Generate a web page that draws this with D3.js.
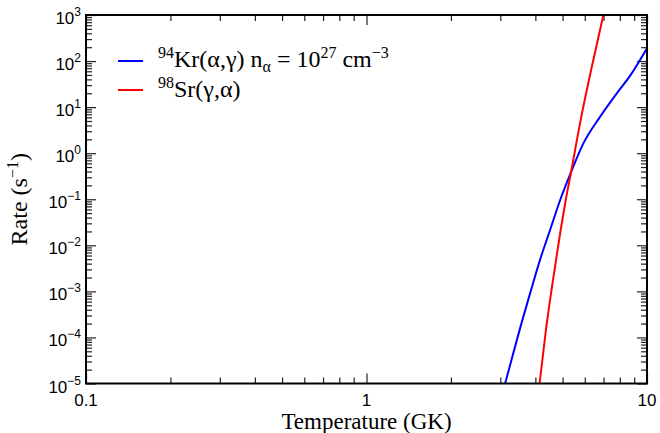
<!DOCTYPE html>
<html>
<head>
<meta charset="utf-8">
<script src="https://cdn.jsdelivr.net/npm/d3@7"></script>
<style>
  body { margin: 0; background: #fff; }
  svg { display: block; }
</style>
</head>
<body>
<svg id="chart" width="660" height="433"></svg>
<script>
// ---- data ----
// 94Kr(a,g) with n_alpha = 1e27 cm^-3
const krTemp = [2.87, 3.12, 3.62, 3.83, 4.15, 4.51, 4.90, 5.36, 5.93, 6.80, 7.80, 8.82, 9.44, 10.0];
const krRate = [1.57e-6, 1.0e-5, 2.76e-4, 9.06e-4, 4.72e-3, 2.12e-2, 9.5e-2, 0.386, 1.63, 6.15, 19.9, 54.1, 105, 189];

// 98Sr(g,a)
const srTemp = [4.03, 4.14, 4.36, 4.62, 4.92, 5.13, 5.36, 5.80, 6.32, 6.99, 7.29];
const srRate = [2.23e-6, 1.0e-5, 1.42e-4, 1.73e-3, 2.12e-2, 9.5e-2, 0.386, 5.21, 63.7, 1000, 3000];

const xMajor = [0.1, 1, 10];
const xMinor = [0.2, 0.3, 0.4, 0.5, 0.6, 0.7, 0.8, 0.9, 2, 3, 4, 5, 6, 7, 8, 9];
const yExp = [-5, -4, -3, -2, -1, 0, 1, 2, 3];

const series = [
  { name: 'kr', color: '#0000ff', temp: krTemp, rate: krRate },
  { name: 'sr', color: '#ff0000', temp: srTemp, rate: srRate }
];

// ---- layout ----
const W = 660, H = 433;
const margin = { left: 86, right: 13, top: 15, bottom: 49.5 };
const iw = W - margin.left - margin.right;
const ih = H - margin.top - margin.bottom;

const svg = d3.select('#chart');
const g = svg.append('g').attr('transform', `translate(${margin.left},${margin.top})`);

const x = d3.scaleLog().domain([0.1, 10]).range([0, iw]);
const y = d3.scaleLog().domain([1e-5, 1e3]).range([ih, 0]);

const yMajor = yExp.map(e => Math.pow(10, e));
const yMinor = [];
yExp.slice(0, -1).forEach(e => {
  for (let k = 2; k <= 9; k++) yMinor.push(k * Math.pow(10, e));
});

// clip for curves
svg.append('defs').append('clipPath').attr('id', 'plotClip')
  .append('rect').attr('width', iw).attr('height', ih);

// ---- ticks on all four sides, pointing in ----
function tickAxis(axisFn, scale, values, size, transform) {
  const a = g.append('g')
    .attr('transform', transform)
    .call(axisFn(scale).tickValues(values).tickSize(-size).tickFormat(''));
  a.select('.domain').remove();
  a.selectAll('line').attr('stroke', '#222').attr('stroke-width', 1.2);
}
tickAxis(d3.axisBottom, x, xMajor, 10, `translate(0,${ih})`);
tickAxis(d3.axisBottom, x, xMinor, 6, `translate(0,${ih})`);
tickAxis(d3.axisTop, x, xMajor, 10, 'translate(0,0)');
tickAxis(d3.axisTop, x, xMinor, 6, 'translate(0,0)');
tickAxis(d3.axisLeft, y, yMajor, 10, 'translate(0,0)');
tickAxis(d3.axisLeft, y, yMinor, 6, 'translate(0,0)');
tickAxis(d3.axisRight, y, yMajor, 10, `translate(${iw},0)`);
tickAxis(d3.axisRight, y, yMinor, 6, `translate(${iw},0)`);

// ---- curves ----
const line = d3.line()
  .x(d => x(d[0]))
  .y(d => y(d[1]))
  .curve(d3.curveMonotoneX);

g.append('g').attr('clip-path', 'url(#plotClip)')
  .selectAll('path.curve')
  .data(series)
  .enter()
  .append('path')
  .attr('class', 'curve')
  .attr('d', s => line(s.temp.map((t, i) => [t, s.rate[i]])))
  .attr('fill', 'none')
  .attr('stroke', s => s.color)
  .attr('stroke-width', 2);

// frame
g.append('rect')
  .attr('width', iw).attr('height', ih)
  .attr('fill', 'none').attr('stroke', '#000').attr('stroke-width', 2);

// ---- tick labels ----
const sans = 'Liberation Sans, Arial, Helvetica, sans-serif';
const serif = 'Liberation Serif, Times New Roman, serif';

const yl = g.selectAll('text.ylab')
  .data(yExp)
  .enter()
  .append('text')
  .attr('class', 'ylab')
  .attr('x', -5)
  .attr('y', e => y(Math.pow(10, e)) + 9)
  .attr('text-anchor', 'end')
  .style('font-family', sans)
  .style('font-size', '17px');
yl.append('tspan').text('10');
yl.append('tspan')
  .attr('dy', -8)
  .style('font-size', '12px')
  .text(e => e < 0 ? '\u2212' + Math.abs(e) : String(e));

g.selectAll('text.xlab')
  .data(xMajor)
  .enter()
  .append('text')
  .attr('class', 'xlab')
  .attr('x', d => x(d))
  .attr('y', ih + 22)
  .attr('text-anchor', 'middle')
  .style('font-family', sans)
  .style('font-size', '17px')
  .text(d => String(d));

// ---- axis titles ----
g.append('text')
  .attr('x', iw / 2)
  .attr('y', ih + 45)
  .attr('text-anchor', 'middle')
  .style('font-family', serif)
  .style('font-size', '23px')
  .text('Temperature (GK)');

const yt = svg.append('text')
  .attr('transform', `translate(27,${margin.top + ih / 2}) rotate(-90)`)
  .attr('text-anchor', 'middle')
  .style('font-family', serif)
  .style('font-size', '24px');
yt.append('tspan').text('Rate (s');
yt.append('tspan').attr('dy', -9).style('font-size', '16px').text('\u22121');
yt.append('tspan').attr('dy', 9).text(')');

// ---- legend ----
const legend = svg.append('g');
const legendRows = [
  { color: '#0000ff', y: 61, base: 67 },
  { color: '#ff0000', y: 90, base: 97 }
];
legend.selectAll('line')
  .data(legendRows)
  .enter()
  .append('line')
  .attr('x1', 118).attr('x2', 143)
  .attr('y1', d => d.y).attr('y2', d => d.y)
  .attr('stroke', d => d.color)
  .attr('stroke-width', 2);

function legendText(base) {
  return legend.append('text')
    .attr('x', 158).attr('y', base)
    .style('font-family', serif)
    .style('font-size', '24px');
}
const t1 = legendText(67);
t1.append('tspan').attr('dy', -9).style('font-size', '16px').text('94');
t1.append('tspan').attr('dy', 9).text('Kr(\u03b1,\u03b3) n');
t1.append('tspan').attr('dy', 5).style('font-size', '16px').text('\u03b1');
t1.append('tspan').attr('dy', -5).text(' = 10');
t1.append('tspan').attr('dy', -9).style('font-size', '16px').text('27');
t1.append('tspan').attr('dy', 9).text(' cm');
t1.append('tspan').attr('dy', -9).style('font-size', '16px').text('\u22123');

const t2 = legendText(97);
t2.append('tspan').attr('dy', -9).style('font-size', '16px').text('98');
t2.append('tspan').attr('dy', 9).text('Sr(\u03b3,\u03b1)');
</script>
</body>
</html>
